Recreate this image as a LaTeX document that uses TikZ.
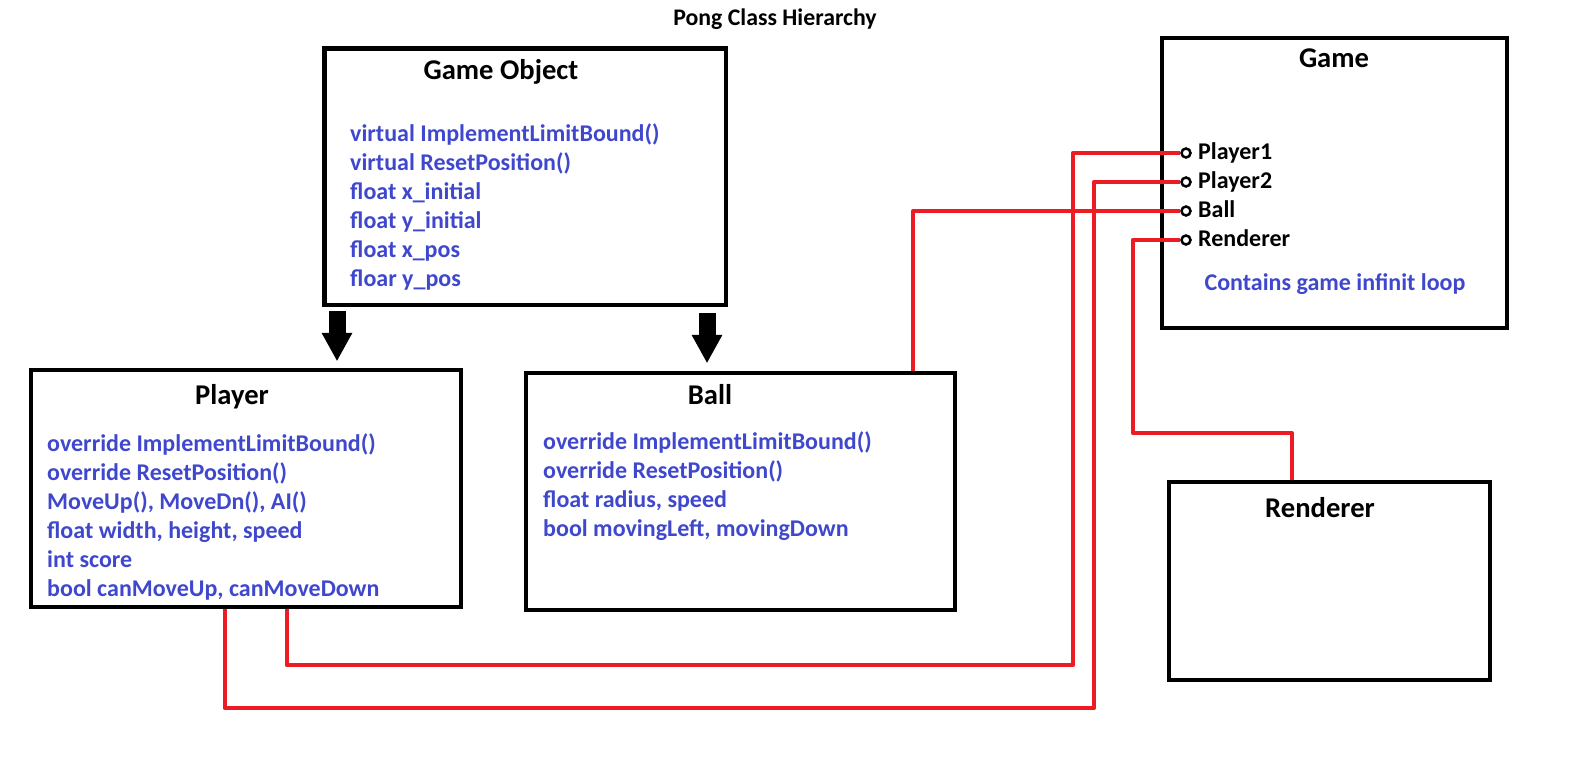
\documentclass[tikz,border=0pt]{standalone}
\usepackage{fontspec}
\setmainfont{Carlito}
\usepackage{xcolor}
\usetikzlibrary{arrows.meta}

\definecolor{paintblue}{HTML}{3F48CC}
\definecolor{paintred}{HTML}{ED1C24}

\tikzset{
  classbox/.style={draw, line width=4.5pt, inner sep=0pt},
  classtitle/.style={font=\fontsize{28.6}{34}\selectfont\bfseries, anchor=base, inner sep=0pt},
  member/.style={font=\fontsize{24}{29}\selectfont\bfseries, text=paintblue, anchor=base west, inner sep=0pt},
  field/.style={member, text=black},
  port/.style={circle, draw, line width=2.5pt, fill=white, minimum size=9pt, inner sep=0pt},
  wire/.style={draw=paintred, line width=4.2pt, line join=round},
  inherit/.style={line width=17pt, -{Triangle[width=31pt, length=28pt, line width=0pt]}},
}

\begin{document}
\begin{tikzpicture}[x=1pt, y=-1pt]
        \useasboundingbox (0,0) rectangle (1590,769);

        % Heading
        \node[classtitle, font=\fontsize{23.8}{28}\selectfont\bfseries] (heading) at (775,25) {Pong Class Hierarchy};

        % Class boxes
        \node[classbox, minimum width=401.5pt, minimum height=256.5pt] (gameobj) at (525,176.5) {};
        \node[classbox, minimum width=430pt, minimum height=237pt] (player) at (246,488.5) {};
        \node[classbox, minimum width=429pt, minimum height=237pt] (ball) at (740.5,491.5) {};
        \node[classbox, minimum width=345pt, minimum height=290pt] (game) at (1334.5,183) {};
        \node[classbox, minimum width=321pt, minimum height=198pt] (renderer) at (1329.5,581) {};

        % Class names
        \node[classtitle] (gameobj-title) at (501,79) {Game Object};
        \node[classtitle] (player-title) at (232,404) {Player};
        \node[classtitle] (ball-title) at (710,404) {Ball};
        \node[classtitle] (game-title) at (1334,67) {Game};
        \node[classtitle] (renderer-title) at (1320,517) {Renderer};

        % Members of Game Object
        \foreach \txt [count=\i from 0] in {virtual ImplementLimitBound(), virtual ResetPosition(),
            float x\_initial, float y\_initial, float x\_pos, floar y\_pos}
          \node[member] (gameobj-m\i) at (350,141+29*\i) {\txt};

        % Members of Player
        \foreach \txt [count=\i from 0] in {override ImplementLimitBound(), override ResetPosition(),
            {MoveUp(), MoveDn(), AI()}, {float width, height, speed}, int score, {bool canMoveUp, canMoveDown}}
          \node[member] (player-m\i) at (47,451+29*\i) {\txt};

        % Members of Ball
        \foreach \txt [count=\i from 0] in {override ImplementLimitBound(), override ResetPosition(),
            {float radius, speed}, {bool movingLeft, movingDown}}
          \node[member] (ball-m\i) at (543,449+29*\i) {\txt};

        % Fields of Game
        \foreach \txt/\nm [count=\i from 0] in {Player1/p1, Player2/p2, Ball/pb, Renderer/pr} {
          \node[field] (\nm-label) at (1198,159+29*\i) {\txt};
          \node[port] (\nm) at (1186,153+29*\i) {};
        }
        \node[member, anchor=base] (game-note) at (1335,290) {Contains game infinit loop};

        % Inheritance arrows
        \coordinate (inh1) at ([xshift=15pt,yshift=-4pt]gameobj.south west);
        \coordinate (inh2) at ([xshift=-21pt,yshift=-6pt]gameobj.south east);
        \draw[inherit] (inh1) -- ([yshift=7pt]inh1 |- player.north);
        \draw[inherit] (inh2) -- ([yshift=8pt]inh2 |- ball.north);

        % Links from Game
        \coordinate (bend1) at (1073,665);
        \coordinate (bend2) at (1094,708);
        \coordinate (bend4) at (1133,433);
        \draw[wire] (p1.west) -| (bend1) -| ([xshift=258pt]player.south west);
        \draw[wire] (p2.west) -| (bend2) -| ([xshift=196pt]player.south west);
        \draw[wire] (pb.west) -| ([xshift=-44pt]ball.north east);
        \draw[wire] (pr.west) -| (bend4) -| ([xshift=125pt]renderer.north west);
\end{tikzpicture}
\end{document}
